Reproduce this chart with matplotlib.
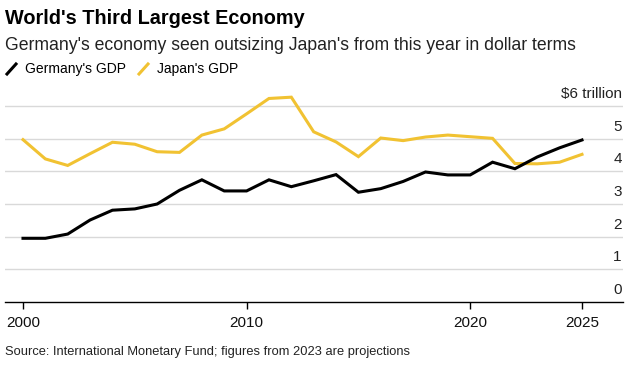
import matplotlib.pyplot as plt
import matplotlib.transforms as mtransforms
from matplotlib.lines import Line2D

plt.rcParams['font.family'] = ['Liberation Sans', 'DejaVu Sans']

years = list(range(2000, 2026))
germany = [1.95, 1.95, 2.08, 2.51, 2.81, 2.85, 3.00, 3.42, 3.74, 3.40,
           3.40, 3.74, 3.53, 3.71, 3.90, 3.36, 3.47, 3.69, 3.98, 3.89,
           3.89, 4.28, 4.08, 4.44, 4.72, 4.96]
japan = [4.97, 4.38, 4.18, 4.54, 4.89, 4.83, 4.60, 4.58, 5.11, 5.30,
         5.76, 6.23, 6.27, 5.21, 4.90, 4.45, 5.02, 4.94, 5.05, 5.11,
         5.06, 5.01, 4.24, 4.23, 4.28, 4.52]
ytick_vals = [0, 1, 2, 3, 4, 5, 6]
ytick_labels = ['0', '1', '2', '3', '4', '5', '$6 trillion']
xtick_vals = [2000, 2010, 2020, 2025]
yellow = '#F1C232'

W, H = 631, 368
fig = plt.figure(figsize=(W / 100, H / 100), dpi=100)
# axes: left 5px, right 623px, y=0 at 302px, 6.5 at ~90px
px_per = (302 - 106) / 6.0
top_px = 302 - 6.5 * px_per
ax = fig.add_axes([5 / W, (H - 302) / H, 618 / W, (302 - top_px) / H])

ax.plot(years, japan, color=yellow, lw=2.2, solid_joinstyle='miter', zorder=3)
ax.plot(years, germany, color='black', lw=2.2, solid_joinstyle='miter', zorder=4)

ppy = (582 - 23) / 25.0
ax.set_xlim(2000 - 18 / ppy, 2025 + 41 / ppy)
ax.set_ylim(0, 6.5)

for v in ytick_vals[1:]:
    ax.axhline(v, color='#d9d9d9', lw=1, zorder=1)
trans = mtransforms.blended_transform_factory(ax.transAxes, ax.transData)
for v, lab in zip(ytick_vals, ytick_labels):
    ax.text(0.998, v + 0.15, lab, transform=trans, ha='right', va='bottom',
            fontsize=11, color='#222222')

ax.set_yticks([])
ax.set_xticks(xtick_vals)
ax.set_xticklabels([str(x) for x in xtick_vals], fontsize=11, color='#111111')
ax.tick_params(axis='x', length=5, width=1, color='black', pad=5)
ax.get_xticklines()[-2].set_color('#999999')
for s in ['top', 'right', 'left']:
    ax.spines[s].set_visible(False)
ax.spines['bottom'].set_color('black')
ax.spines['bottom'].set_linewidth(1)

fig.text(5 / W, 1 - 18 / H, "World's Third Largest Economy", fontsize=14.3,
         fontweight='bold', va='center', ha='left')
fig.text(5 / W, 1 - 45 / H,
         "Germany's economy seen outsizing Japan's from this year in dollar terms",
         fontsize=12.7, va='center', ha='left', color='#222222')

# legend
fig.add_artist(Line2D([7 / W, 16 / W], [1 - 74 / H, 1 - 64 / H], color='black', lw=2.2))
fig.text(25 / W, 1 - 69 / H, "Germany's GDP", fontsize=10, va='center', ha='left')
fig.add_artist(Line2D([139 / W, 148 / W], [1 - 74 / H, 1 - 64 / H], color=yellow, lw=2.2))
fig.text(157 / W, 1 - 69 / H, "Japan's GDP", fontsize=10, va='center', ha='left')

fig.text(5 / W, 1 - 352 / H,
         "Source: International Monetary Fund; figures from 2023 are projections",
         fontsize=9.3, va='center', ha='left', color='#222222')

fig.savefig('out.png', dpi=100)
